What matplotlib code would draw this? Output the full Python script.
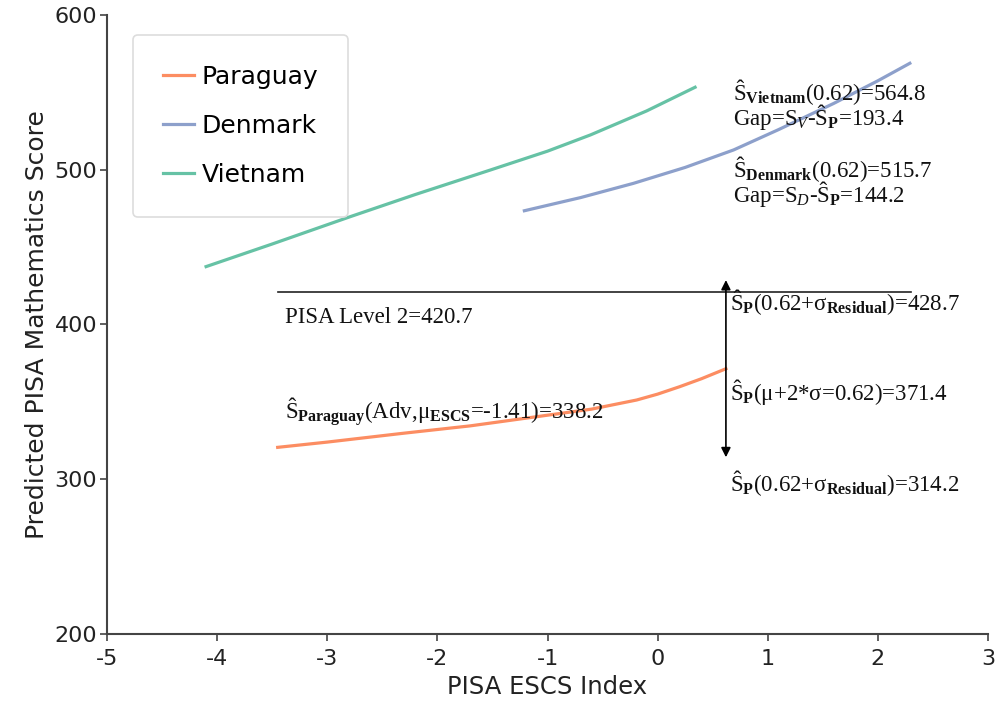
import matplotlib
matplotlib.use('Agg')
import matplotlib.pyplot as plt

# values
paraguay_x = [-3.45, -3.0, -2.31, -1.7, -1.1, -0.6, -0.19, 0.0, 0.2, 0.4, 0.62]
paraguay_y = [320.6, 324.0, 329.7, 334.5, 340.4, 345.3, 351.2, 355.0, 359.8, 365.0, 371.4]

denmark_x = [-1.21, -0.7, -0.22, 0.25, 0.69, 1.1, 1.6, 2.0, 2.29]
denmark_y = [473.5, 482.0, 491.2, 501.5, 512.8, 526.0, 542.9, 557.5, 568.8]

vietnam_x = [-4.1, -3.5, -2.79, -2.2, -1.52, -1.0, -0.61, -0.1, 0.34]
vietnam_y = [437.4, 452.0, 469.7, 484.0, 499.8, 512.0, 522.5, 538.0, 553.3]

level2 = 420.7
level2_x = [-3.45, 2.3]
escs_top = 0.62
arrow_hi = 428.7
arrow_lo = 314.2

plt.rcParams['mathtext.fontset'] = 'custom'
plt.rcParams['mathtext.rm'] = 'Liberation Serif'
plt.rcParams['mathtext.it'] = 'Liberation Serif:italic'
plt.rcParams['mathtext.bf'] = 'Liberation Serif:bold'

fig = plt.figure(figsize=(9.96, 7.21), dpi=100)
ax = fig.add_axes([0.1074, 0.1207, 0.8846, 0.8585])

ax.plot(paraguay_x, paraguay_y, color='#fc8d62', lw=2.3, label='Paraguay')
ax.plot(denmark_x, denmark_y, color='#8da0cb', lw=2.3, label='Denmark')
ax.plot(vietnam_x, vietnam_y, color='#66c2a5', lw=2.3, label='Vietnam')

ax.plot(level2_x, [level2, level2], color='#222222', lw=1.2)
ax.annotate('', xy=(escs_top, arrow_lo), xytext=(escs_top, arrow_hi),
            arrowprops=dict(arrowstyle='<|-|>', color='black', lw=1.2,
                            mutation_scale=14, shrinkA=0, shrinkB=0))

serif = dict(family='Liberation Serif', fontsize=16.5, color='#111111', va='center')
ax.text(0.686, 542, 'Ŝ$_{\\mathbf{Vietnam}}$(0.62)=564.8\nGap=S$_{V}$-Ŝ$_{\\mathbf{P}}$=193.4',
        linespacing=0.8, **serif)
ax.text(0.686, 492.5, 'Ŝ$_{\\mathbf{Denmark}}$(0.62)=515.7\nGap=S$_{D}$-Ŝ$_{\\mathbf{P}}$=144.2',
        linespacing=0.8, **serif)
ax.text(0.66, 414.5, 'Ŝ$_{\\mathbf{P}}$(0.62+σ$_{\\mathbf{Residual}}$)=428.7', **serif)
ax.text(0.66, 356.4, 'Ŝ$_{\\mathbf{P}}$(μ+2*σ=0.62)=371.4', **serif)
ax.text(0.66, 297.6, 'Ŝ$_{\\mathbf{P}}$(0.62+σ$_{\\mathbf{Residual}}$)=314.2', **serif)
ax.text(-3.38, 404.2, 'PISA Level 2=420.7', **serif)
ax.text(-3.38, 343.5, 'Ŝ$_{\\mathbf{Paraguay}}$(Adv,μ$_{\\mathbf{ESCS}}$=-1.41)=338.2', **serif)

ax.set_xlim(-5, 3)
ax.set_ylim(200, 600)
ax.set_xticks(range(-5, 4))
ax.set_yticks([200, 300, 400, 500, 600])
ax.set_xticklabels([str(v) for v in range(-5, 4)])
ax.tick_params(labelsize=16, length=5, width=1.2, color='#444444', labelcolor='#222222')
ax.tick_params(axis='x', pad=6)
ax.tick_params(axis='y', pad=2)
for side in ['top', 'right']:
    ax.spines[side].set_visible(False)
for side in ['left', 'bottom']:
    ax.spines[side].set_color('#444444')
    ax.spines[side].set_linewidth(1.5)

ax.set_xlabel('PISA ESCS Index', fontsize=17.5, color='#222222', labelpad=4)
ax.set_ylabel('Predicted PISA Mathematics Score', fontsize=18, color='#222222', labelpad=4)

leg = ax.legend(loc='upper left', bbox_to_anchor=(0.0295, 0.968), borderaxespad=0,
                fontsize=18, labelspacing=1.0, handlelength=1.25, handletextpad=0.3,
                borderpad=1.2, fancybox=True, edgecolor='#dddddd', framealpha=1)
leg.get_frame().set_linewidth(1.2)

fig.savefig('out.png', dpi=100)
